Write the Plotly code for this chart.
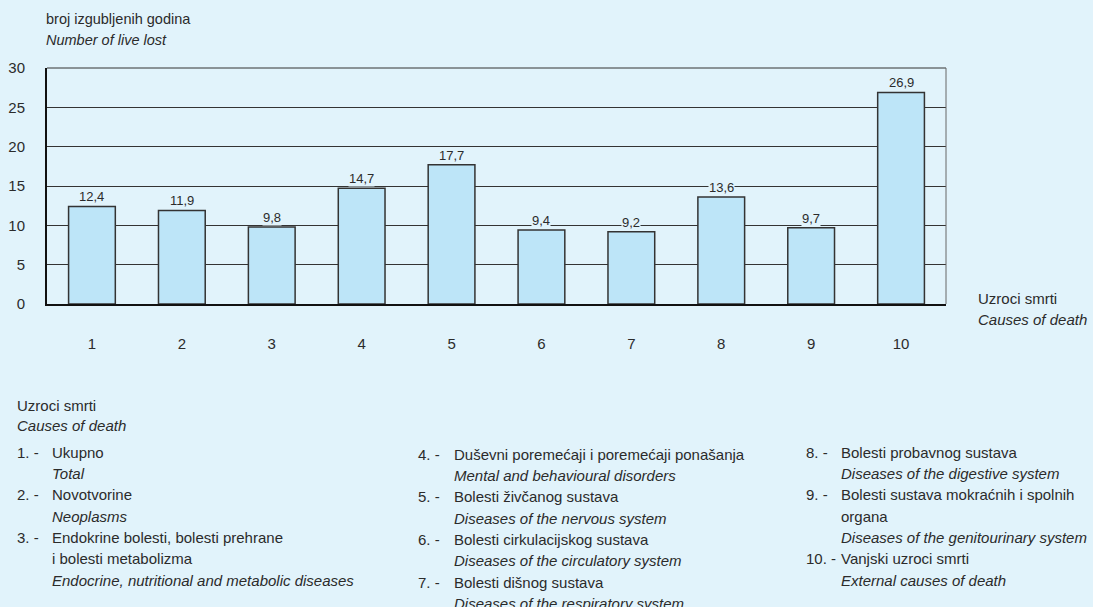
import plotly.graph_objects as go

categories = ["1", "2", "3", "4", "5", "6", "7", "8", "9", "10"]
values = [12.4, 11.9, 9.8, 14.7, 17.7, 9.4, 9.2, 13.6, 9.7, 26.9]
y_ticks = [0, 5, 10, 15, 20, 25, 30]

y_title = ["broj izgubljenih godina", "Number of live lost"]
x_title = ["Uzroci smrti", "Causes of death"]

legend_heading = ["Uzroci smrti", "Causes of death"]
legend_numbers = ["1. -", "2. -", "3. -", "4. -", "5. -", "6. -", "7. -", "8. -", "9. -", "10. -"]
legend_hr = [
    ["Ukupno"],
    ["Novotvorine"],
    ["Endokrine bolesti, bolesti prehrane", "i bolesti metabolizma"],
    ["Duševni poremećaji i poremećaji ponašanja"],
    ["Bolesti živčanog sustava"],
    ["Bolesti cirkulacijskog sustava"],
    ["Bolesti dišnog sustava"],
    ["Bolesti probavnog sustava"],
    ["Bolesti sustava mokraćnih i spolnih", "organa"],
    ["Vanjski uzroci smrti"],
]
legend_en = [
    "Total",
    "Neoplasms",
    "Endocrine, nutritional and metabolic diseases",
    "Mental and behavioural disorders",
    "Diseases of the nervous system",
    "Diseases of the circulatory system",
    "Diseases of the respiratory system",
    "Diseases of the digestive system",
    "Diseases of the genitourinary system",
    "External causes of death",
]
legend_columns = [[0, 1, 2], [3, 4, 5, 6], [7, 8, 9]]

BG = "#e1f3fb"
BAR = "#bde5f8"
TXT = "#2b2b2b"
FONT = "Liberation Sans, Arial, sans-serif"
W, H = 1093, 607
L, R, T, B = 47, 147, 68, 303

fig = go.Figure()
fig.add_trace(go.Bar(
    x=categories, y=values, width=0.52,
    marker=dict(color=BAR, line=dict(color="#333333", width=1.5)),
    hoverinfo="skip",
))

# value labels
for i, v in enumerate(values):
    fig.add_annotation(x=i, y=v, text=f"{v:.1f}".replace(".", ","), showarrow=False,
                       yanchor="bottom", yshift=1, bgcolor=BG, borderpad=0,
                       font=dict(size=13, color=TXT, family=FONT))

def add_text(x, y, text, italic=False, size=15, xanchor="left"):
    fig.add_annotation(xref="paper", yref="paper", x=(x - L) / (W - L - R),
                       y=(H - B - y) / (H - T - B), text=f"<i>{text}</i>" if italic else text,
                       showarrow=False, xanchor=xanchor, yanchor="middle",
                       xshift=-1, font=dict(size=size, color=TXT, family=FONT))

add_text(45, 19, y_title[0], size=14.5)
add_text(45, 40, y_title[1], italic=True, size=14.5)
add_text(977, 298, x_title[0])
add_text(977, 319, x_title[1], italic=True)
add_text(16, 405, legend_heading[0])
add_text(16, 425, legend_heading[1], italic=True)

col_x = [(16, 51), (417, 453), (805, 840)]
col_y0 = [452, 454, 452]
step = 21.4
for ci, idxs in enumerate(legend_columns):
    nx, tx = col_x[ci]
    y = col_y0[ci]
    for i in idxs:
        add_text(nx, y, legend_numbers[i])
        for line in legend_hr[i]:
            add_text(tx, y, line)
            y += step
        add_text(tx, y, legend_en[i], italic=True)
        y += step

# thin top/right border
fig.add_shape(type="line", xref="paper", yref="paper", x0=0, x1=1, y0=1, y1=1,
              line=dict(color="#333333", width=1))
fig.add_shape(type="line", xref="paper", yref="paper", x0=1, x1=1, y0=0, y1=1,
              line=dict(color="#666666", width=1))

fig.update_layout(
    width=W, height=H,
    margin=dict(l=L, r=R, t=T, b=B),
    paper_bgcolor=BG, plot_bgcolor=BG,
    showlegend=False,
    font=dict(family=FONT, color=TXT, size=15),
    xaxis=dict(showgrid=False, showline=True, linecolor="#111111", linewidth=2,
               ticks="", ticklabelstandoff=25, tickfont=dict(size=15, color=TXT),
               automargin=False, fixedrange=True),
    yaxis=dict(range=[0, 30], tickvals=y_ticks, showgrid=True, gridcolor="#333333",
               gridwidth=1, showline=True, linecolor="#111111", linewidth=2,
               ticks="", ticklabelstandoff=17, tickfont=dict(size=15, color=TXT),
               automargin=False, zeroline=False, fixedrange=True),
)

fig.write_html("out.html", config={"displayModeBar": False},
               post_script="document.body.style.margin='0';document.body.style.background='" + BG + "';")
